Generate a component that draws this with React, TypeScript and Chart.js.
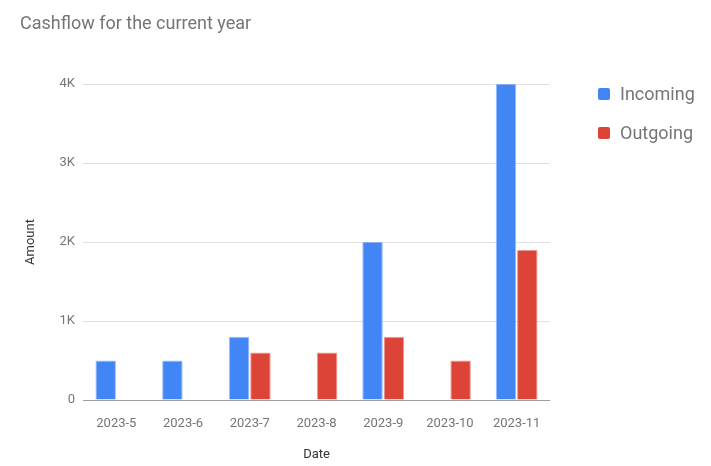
import React, { useEffect, useRef } from "react";
import { Chart, registerables } from "chart.js";

Chart.register(...registerables);

const chartTitle = "Cashflow for the current year";
const categories = ["2023-5", "2023-6", "2023-7", "2023-8", "2023-9", "2023-10", "2023-11"];
const seriesNames = ["Incoming", "Outgoing"];
const incoming = [500, 500, 800, 0, 2000, 0, 4000];
const outgoing = [0, 0, 600, 600, 800, 500, 1900];
const yTickLabels = ["0", "1K", "2K", "3K", "4K"];
const xAxisTitle = "Date";
const yAxisTitle = "Amount";
const colors = ["#4285f4", "#db4437"];
const edgeColors = ["rgba(66,133,244,0.55)", "rgba(219,68,55,0.55)"];

const FONT = "Roboto, 'Noto Sans', sans-serif";

const overlayPlugin = {
  id: "overlay",
  afterDraw(chart: any) {
    const ctx = chart.ctx as CanvasRenderingContext2D;
    ctx.save();
    // title
    ctx.fillStyle = "#757575";
    ctx.font = `18px ${FONT}`;
    ctx.textAlign = "left";
    ctx.textBaseline = "alphabetic";
    ctx.fillText(chartTitle, 12, 21);
    // legend
    const ds = chart.data.datasets;
    ds.forEach((d: any, i: number) => {
      const cy = 86 + i * 39;
      ctx.fillStyle = d.backgroundColor;
      ctx.beginPath();
      if ((ctx as any).roundRect) (ctx as any).roundRect(590, cy - 6, 12, 12, 2);
      else ctx.rect(590, cy - 6, 12, 12);
      ctx.fill();
      ctx.fillStyle = "#757575";
      ctx.font = `18px ${FONT}`;
      ctx.textBaseline = "middle";
      ctx.fillText(d.label, 612, cy + 1);
    });
    ctx.restore();
  },
};

export default function App() {
  const ref = useRef<HTMLCanvasElement | null>(null);
  useEffect(() => {
    if (!ref.current) return;
    const chart = new Chart(ref.current, {
      type: "bar",
      data: {
        labels: categories,
        datasets: [
          { label: seriesNames[0], data: incoming, backgroundColor: colors[0], borderColor: edgeColors[0], borderWidth: 1, borderRadius: 1 },
          { label: seriesNames[1], data: outgoing, backgroundColor: colors[1], borderColor: edgeColors[1], borderWidth: 1, borderRadius: 1 },
        ],
      },
      options: {
        animation: false,
        responsive: false,
        maintainAspectRatio: false,
        categoryPercentage: 0.64,
        barPercentage: 0.96,
        layout: { padding: { top: 76, right: 153, bottom: 0, left: 0 } },
        plugins: {
          legend: { display: false },
          title: { display: false },
          tooltip: { enabled: false },
        },
        scales: {
          x: {
            grid: { display: false },
            border: { display: false },
            ticks: { color: "#757575", font: { family: FONT, size: 13 }, padding: 8, maxRotation: 0 },
            title: {
              display: true,
              text: xAxisTitle,
              color: "#333333",
              font: { family: FONT, size: 13, lineHeight: 1 },
              padding: { top: 0, bottom: -3 },
            },
            afterFit(scale: any) {
              scale.height = 58;
            },
          },
          y: {
            min: 0,
            max: 4000,
            border: { display: false },
            grid: {
              drawTicks: false,
              color: (c: any) => (c.tick && c.tick.value === 0 ? "#9e9e9e" : "#e0e0e0"),
            },
            ticks: {
              stepSize: 1000,
              padding: 8,
              color: "#757575",
              font: { family: FONT, size: 13 },
              callback: (_v: any, i: number) => yTickLabels[i],
            },
            title: {
              display: true,
              text: yAxisTitle,
              color: "#333333",
              font: { family: FONT, size: 13, lineHeight: 1 },
              padding: { top: 16, bottom: 0 },
            },
            afterFit(scale: any) {
              scale.width = 75;
            },
          },
        },
      } as any,
      plugins: [overlayPlugin],
    });
    return () => chart.destroy();
  }, []);
  return (
    <div style={{ width: 695, height: 450 }}>
      <canvas ref={ref} width={695} height={450} style={{ display: "block", width: 695, height: 450 }} />
    </div>
  );
}
